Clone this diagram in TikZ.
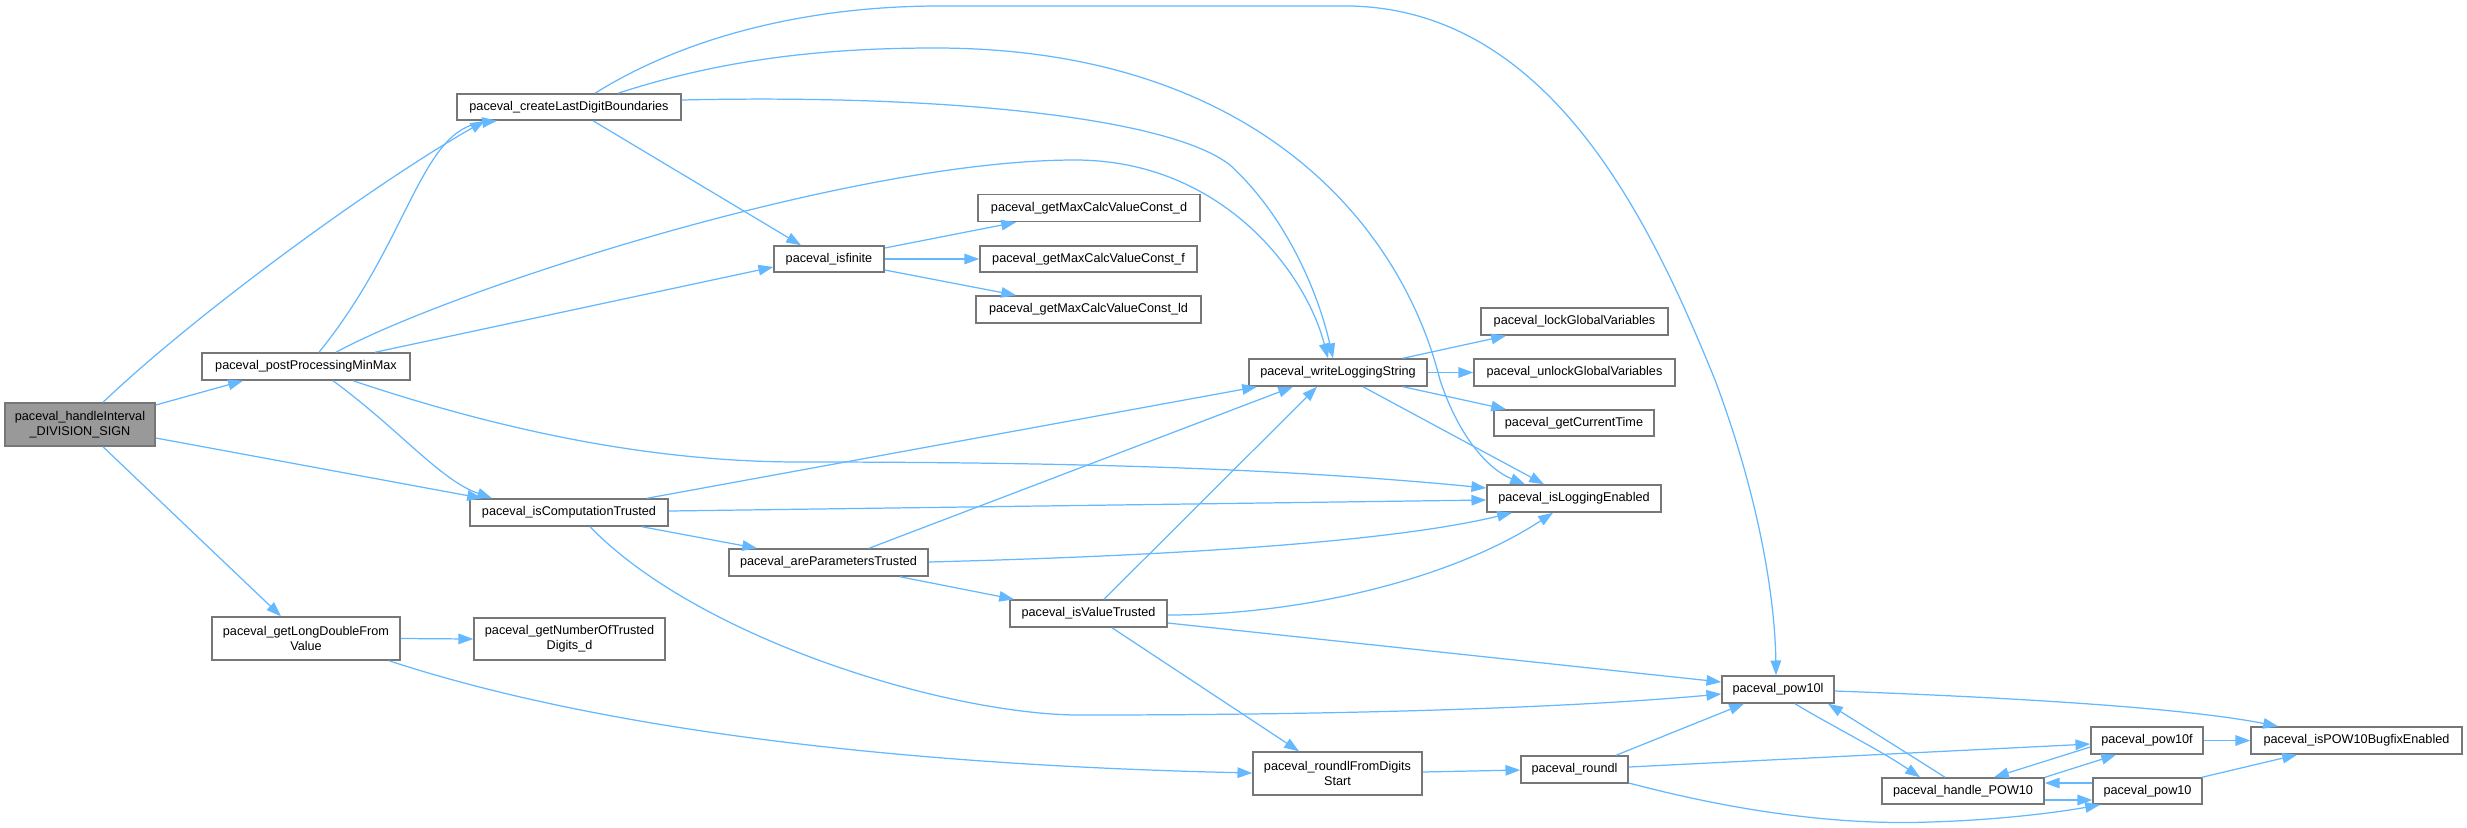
\documentclass[tikz,border=0pt]{standalone}
\usepackage{fontspec}
\setmainfont{Liberation Sans}
\usetikzlibrary{arrows.meta}
\definecolor{lineblue}{HTML}{63B8FF}
\definecolor{boxgray}{HTML}{777777}
\definecolor{rootfill}{HTML}{999999}
\tikzset{
  box/.style={draw=boxgray, fill=white, line width=0.42pt, inner sep=0pt, align=center,
    font=\fontsize{3.6}{4.27}\selectfont},
  root/.style={box, fill=rootfill},
  call/.style={draw=lineblue, line width=0.35pt, -{Triangle[length=4.2pt,width=3pt]}}
}
\begin{document}
\begin{tikzpicture}[x=0.01cm,y=-0.01cm]
\fill[white] (0,0) rectangle (2467,827);
\useasboundingbox (0,0) rectangle (2467,827);
% nodes
\node[root, minimum width=1.50cm, minimum height=0.43cm] (A) at (80,424.5) {paceval\_handleInterval\\\_DIVISION\_SIGN};
\node[box, minimum width=2.24cm, minimum height=0.26cm] (B) at (569,107) {paceval\_createLastDigitBoundaries};
\node[box, minimum width=2.08cm, minimum height=0.27cm] (C) at (306,366.5) {paceval\_postProcessingMinMax};
\node[box, minimum width=1.98cm, minimum height=0.27cm] (D) at (569,512.5) {paceval\_isComputationTrusted};
\node[box, minimum width=1.88cm, minimum height=0.43cm] (E) at (306,638.5) {paceval\_getLongDoubleFrom\\Value};
\node[box, minimum width=1.91cm, minimum height=0.42cm] (F) at (569.5,639) {paceval\_getNumberOfTrusted\\Digits\_d};
\node[box, minimum width=1.10cm, minimum height=0.26cm] (G) at (829,259) {paceval\_isfinite};
\node[box, minimum width=2.22cm, minimum height=0.27cm] (H) at (1089,208) {paceval\_getMaxCalcValueConst\_d};
\node[box, minimum width=2.17cm, minimum height=0.26cm] (I) at (1088.5,259) {paceval\_getMaxCalcValueConst\_f};
\node[box, minimum width=2.25cm, minimum height=0.27cm] (J) at (1088.5,309.5) {paceval\_getMaxCalcValueConst\_ld};
\node[box, minimum width=1.99cm, minimum height=0.27cm] (K) at (828.5,562.5) {paceval\_areParametersTrusted};
\node[box, minimum width=1.78cm, minimum height=0.27cm] (L) at (1338,372.5) {paceval\_writeLoggingString};
\node[box, minimum width=1.87cm, minimum height=0.27cm] (M) at (1574.5,321.5) {paceval\_lockGlobalVariables};
\node[box, minimum width=2.01cm, minimum height=0.27cm] (N) at (1574.5,372.5) {paceval\_unlockGlobalVariables};
\node[box, minimum width=1.60cm, minimum height=0.26cm] (O) at (1574,423) {paceval\_getCurrentTime};
\node[box, minimum width=1.74cm, minimum height=0.27cm] (P) at (1574,498.5) {paceval\_isLoggingEnabled};
\node[box, minimum width=1.57cm, minimum height=0.27cm] (Q) at (1088.5,613.5) {paceval\_isValueTrusted};
\node[box, minimum width=1.69cm, minimum height=0.43cm] (R) at (1337.5,773.5) {paceval\_roundlFromDigits\\Start};
\node[box, minimum width=1.07cm, minimum height=0.27cm] (S) at (1574.5,769.5) {paceval\_roundl};
\node[box, minimum width=1.12cm, minimum height=0.27cm] (T) at (1778,689.5) {paceval\_pow10l};
\node[box, minimum width=1.62cm, minimum height=0.26cm] (U) at (1963,791) {paceval\_handle\_POW10};
\node[box, minimum width=1.12cm, minimum height=0.27cm] (V) at (2147,740.5) {paceval\_pow10f};
\node[box, minimum width=1.09cm, minimum height=0.26cm] (W) at (2147.5,791) {paceval\_pow10};
\node[box, minimum width=2.11cm, minimum height=0.27cm] (X) at (2356.5,740.5) {paceval\_isPOW10BugfixEnabled};
% connectors
\draw[call] (103,0 |- A.north) .. controls (200,310) and (380,180) .. (485,0 |- B.south);
\draw[call] (A.east |- 0,405) -- (243,0 |- C.south);
\draw[call] (A.east |- 0,438) -- (482,0 |- D.north);
\draw[call] (103,0 |- A.south) -- (281,0 |- E.north);
\draw[call] (319,0 |- C.north) .. controls (410,240) and (420,130) .. (497,0 |- B.south);
\draw[call] (375,0 |- C.north) -- (G.west |- 0,267);
\draw[call] (336,0 |- C.north) .. controls (450,290) and (850,160) .. (1075,160) .. controls (1220,160) and (1305,270) .. (1328,0 |- L.north);
\draw[call] (333,0 |- C.south) .. controls (400,430) and (440,480) .. (492,0 |- D.north);
\draw[call] (353,0 |- C.south) .. controls (500,430) and (650,462) .. (800,462) .. controls (1100,462) and (1300,470) .. (P.west |- 0,488);
\draw[call] (595,0 |- B.north) .. controls (680,40) and (800,6) .. (940,6) -- (1350,6) .. controls (1550,10) and (1650,220) .. (1715,380) .. controls (1760,500) and (1775,600) .. (1776,0 |- T.north);
\draw[call] (B.east |- 0,100) .. controls (950,94) and (1170,118) .. (1230,165) .. controls (1290,220) and (1320,300) .. (1333,0 |- L.north);
\draw[call] (618,0 |- B.north) .. controls (720,60) and (820,48) .. (935,48) .. controls (1250,48) and (1400,220) .. (1440,380) .. controls (1460,440) and (1490,470) .. (1525,0 |- P.north);
\draw[call] (593,0 |- B.south) -- (801,0 |- G.north);
\draw[call] (G.east |- 0,248) -- (1016,0 |- H.south);
\draw[call] (G.east) -- (I.west);
\draw[call] (G.east |- 0,270) -- (1016,0 |- J.north);
\draw[call] (647,0 |- D.north) -- (1257,0 |- L.south);
\draw[call] (869,0 |- K.north) -- (1293,0 |- L.south);
\draw[call] (1104,0 |- Q.north) -- (1317,0 |- L.south);
\draw[call] (D.east |- 0,511) -- (P.west |- 0,500);
\draw[call] (642,0 |- D.south) -- (757,0 |- K.north);
\draw[call] (590,0 |- D.south) .. controls (700,640) and (950,715) .. (1080,715) .. controls (1400,715) and (1600,705) .. (T.west |- 0,694);
\draw[call] (K.east |- 0,562) .. controls (1200,555) and (1400,540) .. (1512,0 |- P.south);
\draw[call] (900,0 |- K.south) -- (1014,0 |- Q.north);
\draw[call] (Q.east |- 0,615) .. controls (1300,615) and (1450,580) .. (1553,0 |- P.south);
\draw[call] (Q.east |- 0,623) -- (T.west |- 0,682);
\draw[call] (1112,0 |- Q.south) -- (1299,0 |- R.north);
\draw[call] (E.east) -- (F.west);
\draw[call] (389,0 |- E.south) .. controls (600,730) and (900,765) .. (R.west |- 0,773);
\draw[call] (1403,0 |- L.north) -- (1506,0 |- M.south);
\draw[call] (L.east) -- (N.west);
\draw[call] (1403,0 |- L.south) -- (1506,0 |- O.north);
\draw[call] (1363,0 |- L.south) -- (1544,0 |- P.north);
\draw[call] (R.east |- 0,772) -- (S.west |- 0,770);
\draw[call] (1616,0 |- S.north) -- (1744,0 |- T.south);
\draw[call] (S.east |- 0,767) -- (V.west |- 0,744);
\draw[call] (S.east |- 0,783) .. controls (1750,815) and (1850,825) .. (1930,822) .. controls (2000,820) and (2060,812) .. (2100,0 |- W.south);
\draw[call] (T.east |- 0,691) .. controls (2000,697) and (2180,707) .. (2278,0 |- X.north);
\draw[call] (1795,0 |- T.south) .. controls (1830,725) and (1880,750) .. (1920,0 |- U.north);
\draw[call] (1945,0 |- U.north) .. controls (1910,755) and (1870,730) .. (1828,0 |- T.south);
\draw[call] (2045,0 |- U.north) -- (2116,0 |- V.south);
\draw[call] (V.west |- 0,747) -- (1994,0 |- U.north);
\draw[call] (U.east |- 0,800) -- (W.west |- 0,800);
\draw[call] (W.west |- 0,783) -- (U.east |- 0,783);
\draw[call] (V.east) -- (X.west);
\draw[call] (2202,0 |- W.north) -- (2297,0 |- X.south);
\end{tikzpicture}
\end{document}
